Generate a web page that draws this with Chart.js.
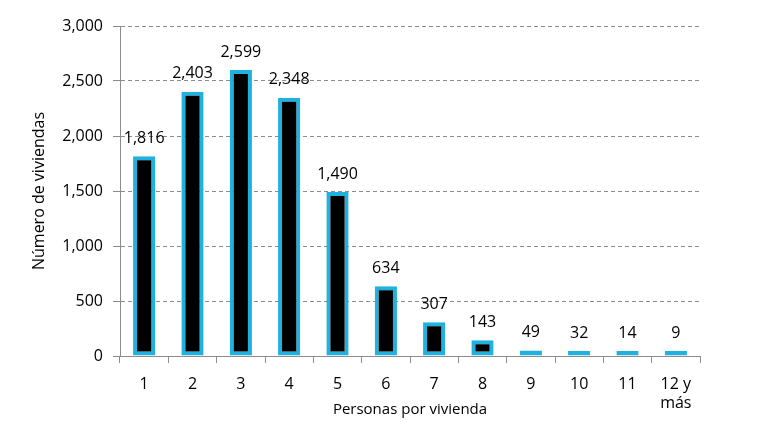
<!DOCTYPE html>
<html>
<head>
<meta charset="utf-8">
<script src="https://cdn.jsdelivr.net/npm/chart.js@4"></script>
<style>
  html, body { margin: 0; padding: 0; background: #fff; }
  #wrap { width: 757px; height: 435px; }
</style>
</head>
<body>
<div id="wrap"><canvas id="chart" width="757" height="435"></canvas></div>
<script>
// Persons per dwelling -> number of dwellings
const categories = ['1', '2', '3', '4', '5', '6', '7', '8', '9', '10', '11', ['12 y', 'más']];
const viviendas = [1816, 2403, 2599, 2348, 1490, 634, 307, 143, 49, 32, 14, 9];
const yTicks = [0, 500, 1000, 1500, 2000, 2500, 3000];

const FONT = "'Open Sans', 'Liberation Sans', sans-serif";
const fmt = v => v.toLocaleString('en-US');

// value labels above each bar + x axis title
const valueLabels = {
  id: 'valueLabels',
  afterDatasetsDraw(chart) {
    const ctx = chart.ctx;
    const meta = chart.getDatasetMeta(0);
    ctx.save();
    ctx.font = '16px ' + FONT;
    ctx.fillStyle = '#000';
    ctx.textAlign = 'center';
    ctx.textBaseline = 'bottom';
    meta.data.forEach((bar, i) => {
      ctx.fillText(fmt(viviendas[i]), bar.x, bar.y - 10);
    });
    ctx.font = '15px ' + FONT;
    ctx.textBaseline = 'middle';
    const area = chart.chartArea;
    ctx.fillText('Personas por vivienda', (area.left + area.right) / 2, 410);
    ctx.restore();
  }
};

new Chart(document.getElementById('chart'), {
  type: 'bar',
  data: {
    labels: categories,
    datasets: [{
      data: viviendas,
      backgroundColor: '#000000',
      borderColor: '#1fb1df',
      borderWidth: 4,
      borderSkipped: false,
      minBarLength: 5,
      barPercentage: 0.46,
      categoryPercentage: 1
    }]
  },
  options: {
    responsive: false,
    animation: false,
    layout: { padding: { top: 26, right: 57, left: 0, bottom: 0 } },
    plugins: { legend: { display: false }, tooltip: { enabled: false } },
    scales: {
      x: {
        offset: true,
        grid: {
          offset: true, drawOnChartArea: false, drawTicks: true, tickLength: 7,
          color: () => '#8c8c8c'
        },
        border: { color: '#8c8c8c' },
        ticks: { color: '#000', font: { family: FONT, size: 16 }, padding: 12, maxRotation: 0, autoSkip: false },
        afterFit: s => { s.height = 79; }
      },
      y: {
        min: 0,
        max: 3000,
        afterBuildTicks: s => { s.ticks = yTicks.map(v => ({ value: v })); },
        grid: { color: '#8c8c8c', tickColor: '#8c8c8c', tickLength: 7, drawTicks: true },
        border: { color: '#8c8c8c', dash: [4, 3] },
        ticks: { color: '#000', font: { family: FONT, size: 16 }, padding: 10, callback: v => fmt(v) },
        title: { display: true, text: 'Número de viviendas', color: '#000', font: { family: FONT, size: 16 }, padding: { top: 30, bottom: 4 } },
        afterFit: s => { s.width = 120; }
      }
    }
  },
  plugins: [valueLabels]
});
</script>
</body>
</html>
